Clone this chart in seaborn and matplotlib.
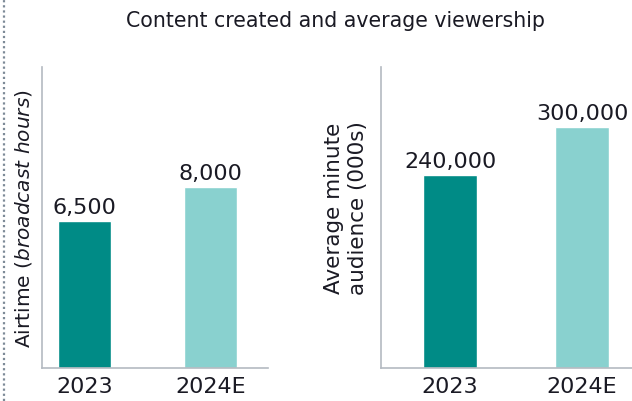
import matplotlib
matplotlib.use("Agg")
import matplotlib.pyplot as plt
import seaborn as sns
from matplotlib.lines import Line2D

# Data
years = ["2023", "2024E"]
airtime_hours = [6500, 8000]
audience_000s = [240000, 300000]

dark_teal = "#008b86"
light_teal = "#89d1cf"
spine_col = "#b4bac1"
text_col = "#1a1a24"

sns.set_style("white")
plt.rcParams["font.family"] = ["DejaVu Sans"]
plt.rcParams["mathtext.fontset"] = "dejavusans"
plt.rcParams["text.color"] = text_col

fig = plt.figure(figsize=(6.32, 4.02), dpi=100)
ax1 = fig.add_axes([42 / 632, 33 / 402, 226 / 632, 301 / 402])
ax2 = fig.add_axes([381 / 632, 33 / 402, 251 / 632, 301 / 402])


def draw_panel(ax, values, ylabel, ymax, xlim, width, fsize, spacing):
    sns.barplot(x=years, y=values, hue=years, palette=[dark_teal, light_teal],
                width=width, legend=False, ax=ax, saturation=1)
    ax.set_ylim(0, ymax)
    ax.set_xlim(*xlim)
    for c in ax.containers:
        ax.bar_label(c, labels=[f"{v:,.0f}" for v in c.datavalues],
                     padding=3, fontsize=16, color=text_col)
    sns.despine(ax=ax, top=True, right=True)
    for s in ["left", "bottom"]:
        ax.spines[s].set_color(spine_col)
        ax.spines[s].set_linewidth(1.2)
    ax.set_yticks([])
    ax.tick_params(axis="x", length=0, labelsize=16, labelcolor=text_col, pad=6)
    ax.set_xlabel("")
    ax.set_ylabel(ylabel, fontsize=fsize, color=text_col, labelpad=6,
                  linespacing=spacing)


draw_panel(ax1, airtime_hours, r"Airtime $\it{(broadcast\ hours)}$",
           13300, (-0.337, 1.456), 0.42, 14.5, 1.0)
draw_panel(ax2, audience_000s, "Average minute\naudience (000s)",
           375000, (-0.523, 1.379), 0.41, 15.5, 1.25)
ax2.yaxis.set_label_coords(-0.05, 0.535)

fig.text(336 / 632, 1 - 21 / 402, "Content created and average viewership",
         ha="center", va="center", fontsize=14.8, color=text_col)

# dotted rule at the left edge
fig.add_artist(Line2D([4 / 632, 4 / 632], [0, 1], transform=fig.transFigure,
                      color="#7d8a97", linewidth=1.6, linestyle=(0, (1, 1.3))))

fig.savefig("out.png", dpi=100)
